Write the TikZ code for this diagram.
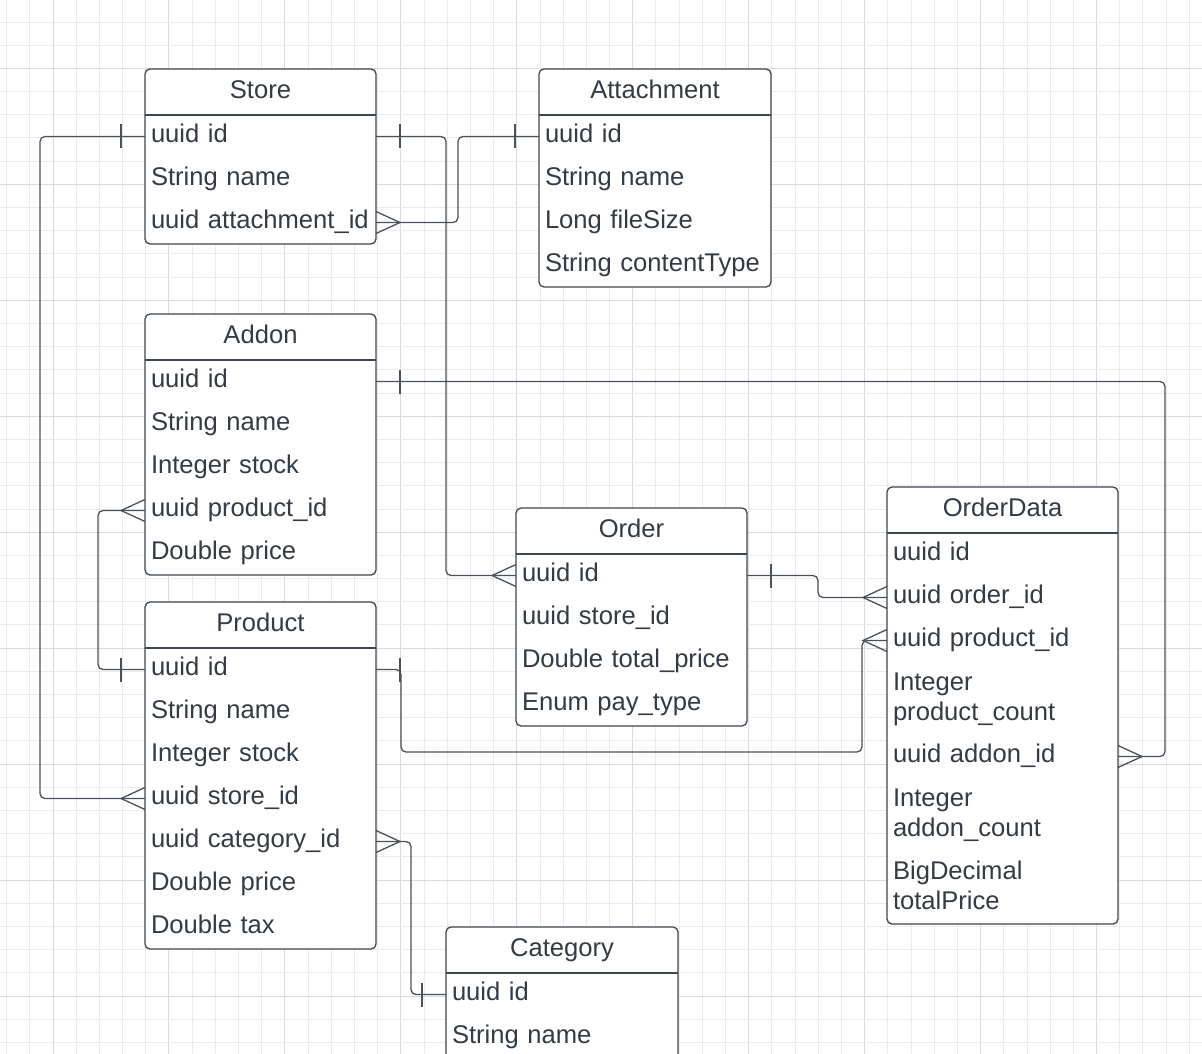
\documentclass[tikz,border=0pt]{standalone}
\usepackage{fontspec}
\setmainfont{Liberation Sans}
\usetikzlibrary{calc}
\definecolor{gridc}{HTML}{EBEBEC}
\definecolor{gridmaj}{HTML}{DADADB}
\definecolor{boxc}{HTML}{3E4650}
\definecolor{linec}{HTML}{4A515B}
\definecolor{txtc}{HTML}{343B44}
\tikzset{
  entbox/.style={draw=boxc, line width=1.3pt, fill=white, rounded corners=5pt, inner sep=0pt, outer sep=0pt},
  enttitle/.style={text=txtc, font=\fontsize{25.6}{30.5}\selectfont, inner sep=0pt, text height=18.5pt, text depth=6pt},
  sepline/.style={draw=boxc, line width=1.3pt},
  rowtext/.style={text=txtc, font=\fontsize{25.6}{30.5}\selectfont, anchor=west, inner xsep=6pt, inner ysep=0pt, outer sep=0pt, align=left, text height=18.5pt, text depth=6pt},
  rowtwo/.style={rowtext, text depth=35.5pt},
  conn/.style={draw=linec, line width=1.3pt, rounded corners=5pt},
  cardmark/.style={draw=linec, line width=1.3pt},
  gridln/.style={draw=gridc, line width=0.9pt},
  gridmj/.style={draw=gridmaj, line width=0.9pt}
}
\newcommand{\entity}[6]{%
  \node[entbox, minimum width=#4pt, minimum height=#5pt, anchor=north west] (#1) at (#2,#3) {};
  \node[enttitle] (#1-title) at ([yshift=-23pt]#1.north) {#6};
  \draw[sepline] ([yshift=-46pt]#1.north west) -- ([yshift=-46pt]#1.north east);
}
\newcommand{\erow}[5]{%
  \node[rowtext, text width=#4pt] (#1) at ([yshift=-#3pt]#2.north west) {#5};
}
\newcommand{\erowtwo}[5]{%
  \node[rowtwo, text width=#4pt] (#1) at ([yshift=-#3pt]#2.north west) {#5};
}
\newcommand{\barL}[1]{\draw[cardmark] ([xshift=-24pt,yshift=12pt]#1) -- ([xshift=-24pt,yshift=-12pt]#1);}
\newcommand{\barR}[1]{\draw[cardmark] ([xshift=24pt,yshift=12pt]#1) -- ([xshift=24pt,yshift=-12pt]#1);}
\newcommand{\crowL}[1]{\draw[cardmark] ([yshift=11pt]#1) -- ([xshift=-24pt]#1) -- ([yshift=-11pt]#1);}
\newcommand{\crowR}[1]{\draw[cardmark] ([yshift=11pt]#1) -- ([xshift=24pt]#1) -- ([yshift=-11pt]#1);}
\begin{document}
\begin{tikzpicture}[x=1pt,y=-1pt]
\clip (0,0) rectangle (1202,1054);
\fill[white] (0,0) rectangle (1202,1054);
% grid
\foreach \i in {0,...,51} {
  \pgfmathtruncatemacro{\m}{mod(\i,5)}
  \ifnum\m=2 \draw[gridmj] ({6.6+23.19*\i},0) -- ++(0,1054);
  \else \draw[gridln] ({6.6+23.19*\i},0) -- ++(0,1054); \fi
}
\foreach \j in {0,...,46} {
  \pgfmathtruncatemacro{\m}{mod(\j,5)}
  \ifnum\m=3 \draw[gridmj] (0,{-1.2+23.19*\j}) -- ++(1202,0);
  \else \draw[gridln] (0,{-1.2+23.19*\j}) -- ++(1202,0); \fi
}

% Store
\entity{store}{145}{69}{231}{175}{Store}
\erow{s-id}{store}{67.5}{219}{uuid id}
\erow{s-name}{store}{110.5}{219}{String name}
\erow{s-att}{store}{153.5}{219}{uuid attachment\_id}

% Attachment
\entity{att}{539}{69}{232}{218}{Attachment}
\erow{a-id}{att}{67.5}{220}{uuid id}
\erow{a-name}{att}{110.5}{220}{String name}
\erow{a-size}{att}{153.5}{220}{Long fileSize}
\erow{a-type}{att}{196.5}{220}{String contentType}

% Addon
\entity{addon}{145}{314}{231}{261}{Addon}
\erow{ad-id}{addon}{67.5}{219}{uuid id}
\erow{ad-name}{addon}{110.5}{219}{String name}
\erow{ad-stock}{addon}{153.5}{219}{Integer stock}
\erow{ad-prod}{addon}{196.5}{219}{uuid product\_id}
\erow{ad-price}{addon}{239.5}{219}{Double price}

% Product
\entity{product}{145}{602}{231}{347}{Product}
\erow{p-id}{product}{67.5}{219}{uuid id}
\erow{p-name}{product}{110.5}{219}{String name}
\erow{p-stock}{product}{153.5}{219}{Integer stock}
\erow{p-store}{product}{196.5}{219}{uuid store\_id}
\erow{p-cat}{product}{239.5}{219}{uuid category\_id}
\erow{p-price}{product}{282.5}{219}{Double price}
\erow{p-tax}{product}{325.5}{219}{Double tax}

% Order
\entity{order}{516}{508}{231}{218}{Order}
\erow{o-id}{order}{67.5}{219}{uuid id}
\erow{o-store}{order}{110.5}{219}{uuid store\_id}
\erow{o-total}{order}{153.5}{219}{Double total\_price}
\erow{o-pay}{order}{196.5}{219}{Enum pay\_type}

% OrderData
\entity{od}{887}{487}{231}{437}{OrderData}
\erow{od-id}{od}{67.5}{219}{uuid id}
\erow{od-order}{od}{110.5}{219}{uuid order\_id}
\erow{od-prod}{od}{153.5}{219}{uuid product\_id}
\erowtwo{od-pcount}{od}{211.5}{219}{Integer\\product\_count}
\erow{od-addon}{od}{269.5}{219}{uuid addon\_id}
\erowtwo{od-acount}{od}{327.5}{219}{Integer\\addon\_count}
\erowtwo{od-total}{od}{400.5}{219}{BigDecimal\\totalPrice}

% Category
\entity{cat}{446}{927}{232}{132}{Category}
\erow{c-id}{cat}{67.5}{220}{uuid id}
\erow{c-name}{cat}{110.5}{220}{String name}

% waypoints
\coordinate (w1) at (40,0);
\coordinate (w2) at (446,0);
\coordinate (w3) at (458,0);
\coordinate (w4) at (1165,0);
\coordinate (w5) at (98,0);
\coordinate (w6) at (401,0);
\coordinate (w7) at (0,752);
\coordinate (w8) at (862,0);
\coordinate (w9) at (818,0);
\coordinate (w10) at (411,0);

% connectors
\draw[conn] (s-id.west) -- (w1 |- s-id.west) -- (w1 |- p-store.west) -- (p-store.west);
\draw[conn] (s-id.east) -- (w2 |- s-id.east) -- (w2 |- o-id.west) -- (o-id.west);
\draw[conn] (a-id.west) -- (w3 |- a-id.west) -- (w3 |- s-att.east) -- (s-att.east);
\draw[conn] (ad-id.east) -- (w4 |- ad-id.east) -- (w4 |- od-addon.east) -- (od-addon.east);
\draw[conn] (p-id.west) -- (w5 |- p-id.west) -- (w5 |- ad-prod.west) -- (ad-prod.west);
\draw[conn] (p-id.east) -- (w6 |- p-id.east) -- (w6 |- w7) -- (w8 |- w7) -- (w8 |- od-prod.west) -- (od-prod.west);
\draw[conn] (o-id.east) -- (w9 |- o-id.east) -- (w9 |- od-order.west) -- (od-order.west);
\draw[conn] (p-cat.east) -- (w10 |- p-cat.east) -- (w10 |- c-id.west) -- (c-id.west);

% cardinality marks
\barL{s-id.west}
\barR{s-id.east}
\barL{a-id.west}
\barR{ad-id.east}
\barL{p-id.west}
\barR{p-id.east}
\barR{o-id.east}
\barL{c-id.west}
\crowL{p-store.west}
\crowL{o-id.west}
\crowR{s-att.east}
\crowR{od-addon.east}
\crowL{ad-prod.west}
\crowL{od-prod.west}
\crowL{od-order.west}
\crowR{p-cat.east}
\end{tikzpicture}
\end{document}
